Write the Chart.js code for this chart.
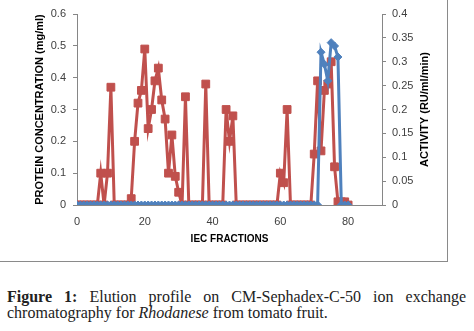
<!DOCTYPE html>
<html><head><meta charset="utf-8">
<script src="https://cdn.jsdelivr.net/npm/chart.js@4/dist/chart.umd.min.js"></script>
<style>
html,body{margin:0;padding:0;background:#fff;width:474px;height:331px;overflow:hidden}
#wrap{position:absolute;left:0;top:0;width:447px;height:261px;border-right:1px solid #8a8a8a;border-bottom:1px solid #8a8a8a}
#cap{position:absolute;left:7px;top:289px;width:459px;font-family:"Liberation Serif","DejaVu Serif",serif;font-size:16px;line-height:16px;text-align:justify;text-align-last:left;color:#222}
</style></head><body>
<div id="wrap"><canvas id="c" width="447" height="261"></canvas></div>
<div id="cap"><b>Figure 1:</b> Elution profile on CM-Sephadex-C-50 ion exchange chromatography for <i>Rhodanese</i> from tomato fruit.</div>
<script>
const fractions = [0,1,2,3,4,5,6,7,8,9,10,11,12,13,14,15,16,17,18,19,20,21,22,23,24,25,26,27,28,29,30,31,32,33,34,35,36,37,38,39,40,41,42,43,44,45,46,47,48,49,50,51,52,53,54,55,56,57,58,59,60,61,62,63,64,65,66,67,68,69,70,71,72,73,74,75,76,77,78,79,80];
const proteinConc = [0,0,0,0,0,0,0,0.10,0,0.10,0.37,0,0,0,0,0,0.02,0.20,0.32,0.36,0.49,0.24,0.30,0.39,0.43,0.33,0.27,0.10,0.22,0.09,0.04,0,0.34,0,0,0,0,0,0.38,0,0,0,0,0,0.30,0.20,0.28,0,0,0,0,0,0,0,0,0,0,0,0,0,0.10,0.07,0.30,0,0,0,0,0,0,0,0.16,0.39,0.17,0.36,0.38,0.45,0.12,0.01,0.01,0.01,0];
const activity = [0,0,0,0,0,0,0,0,0,0,0,0,0,0,0,0,0,0,0,0,0,0,0,0,0,0,0,0,0,0,0,0,0,0,0,0,0,0,0,0,0,0,0,0,0,0,0,0,0,0,0,0,0,0,0,0,0,0,0,0,0,0,0,0,0,0,0,0,0,0,0,0,0.32,0.295,0.26,0.34,0.333,0.31,0,0,0];
const xTicks = [0,20,40,60,80];
const leftTitle = "PROTEIN CONCENTRATION (mg/ml)";
const rightTitle = "ACTIVITY (RU/ml/min)";
const xTitle = "IEC FRACTIONS";

const RED = "#C0504D", BLUE = "#4F81BD", AXIS = "#868686", TXT = "#404040";
const tickFont = {family:"'Liberation Sans', Arial, sans-serif", size:11};
const fmt = v => String(+(+v).toFixed(2));

const titles = {
  id:"titles",
  afterDraw(chart){
    const ctx = chart.ctx, ca = chart.chartArea;
    ctx.save();
    ctx.fillStyle = "#000";
    ctx.font = "bold 11px 'Liberation Sans', Arial, sans-serif";
    ctx.textAlign = "center"; ctx.textBaseline = "middle";
    const cy = (ca.top + ca.bottom)/2;
    ctx.save(); ctx.translate(40, cy); ctx.rotate(-Math.PI/2); ctx.fillText(leftTitle, 0, 0); ctx.restore();
    ctx.save(); ctx.translate(425, cy); ctx.rotate(-Math.PI/2); ctx.fillText(rightTitle, 0, 0); ctx.restore();
    ctx.font = "bold 10px 'Liberation Sans', Arial, sans-serif";
    ctx.fillText(xTitle, (ca.left + ca.right)/2, 239);
    ctx.restore();
  }
};

new Chart(document.getElementById("c"), {
  type: "line",
  data: {
    datasets: [
      {label:"Activity", yAxisID:"y1", order:0,
       data: fractions.map((f,i)=>({x:f, y:activity[i]})),
       borderColor:BLUE, backgroundColor:BLUE, borderWidth:3,
       pointStyle:"rectRot", pointRadius:4, pointBorderWidth:1,
       pointBackgroundColor:BLUE, pointBorderColor:BLUE, tension:0},
      {label:"Protein", yAxisID:"y", order:1,
       data: fractions.map((f,i)=>({x:f, y:proteinConc[i]})),
       borderColor:RED, backgroundColor:RED, borderWidth:3,
       pointStyle:"rect", pointRadius:5.5, pointBorderWidth:1,
       pointBackgroundColor:RED, pointBorderColor:RED, tension:0}
    ]
  },
  options: {
    responsive:false, animation:false,
    layout:{padding:{top:14,left:0,right:0,bottom:0}},
    plugins:{legend:{display:false}, tooltip:{enabled:false}},
    scales:{
      x:{type:"linear", min:0, max:90,
         afterBuildTicks(s){ s.ticks = xTicks.map(v=>({value:v})); },
         afterFit(s){ s.height = 56; },
         grid:{display:true, drawOnChartArea:false, drawTicks:false, color:AXIS},
         border:{display:true, color:AXIS, width:1},
         ticks:{font:tickFont, color:TXT, padding:10, maxRotation:0, callback:v=>fmt(v)}},
      y:{position:"left", min:0, max:0.6,
         afterFit(s){ s.width = 77; },
         grid:{display:true, drawOnChartArea:false, drawTicks:true, tickLength:4, color:AXIS},
         border:{display:true, color:AXIS, width:1},
         ticks:{font:tickFont, color:TXT, stepSize:0.1, padding:7, callback:v=>fmt(v)}},
      y1:{position:"right", min:0, max:0.4,
         afterFit(s){ s.width = 65; },
         grid:{display:true, drawOnChartArea:false, drawTicks:true, tickLength:4, color:AXIS},
         border:{display:true, color:AXIS, width:1},
         ticks:{font:tickFont, color:TXT, stepSize:0.05, padding:6, callback:v=>fmt(v)}}
    }
  },
  plugins:[titles]
});
</script>
</body></html>
